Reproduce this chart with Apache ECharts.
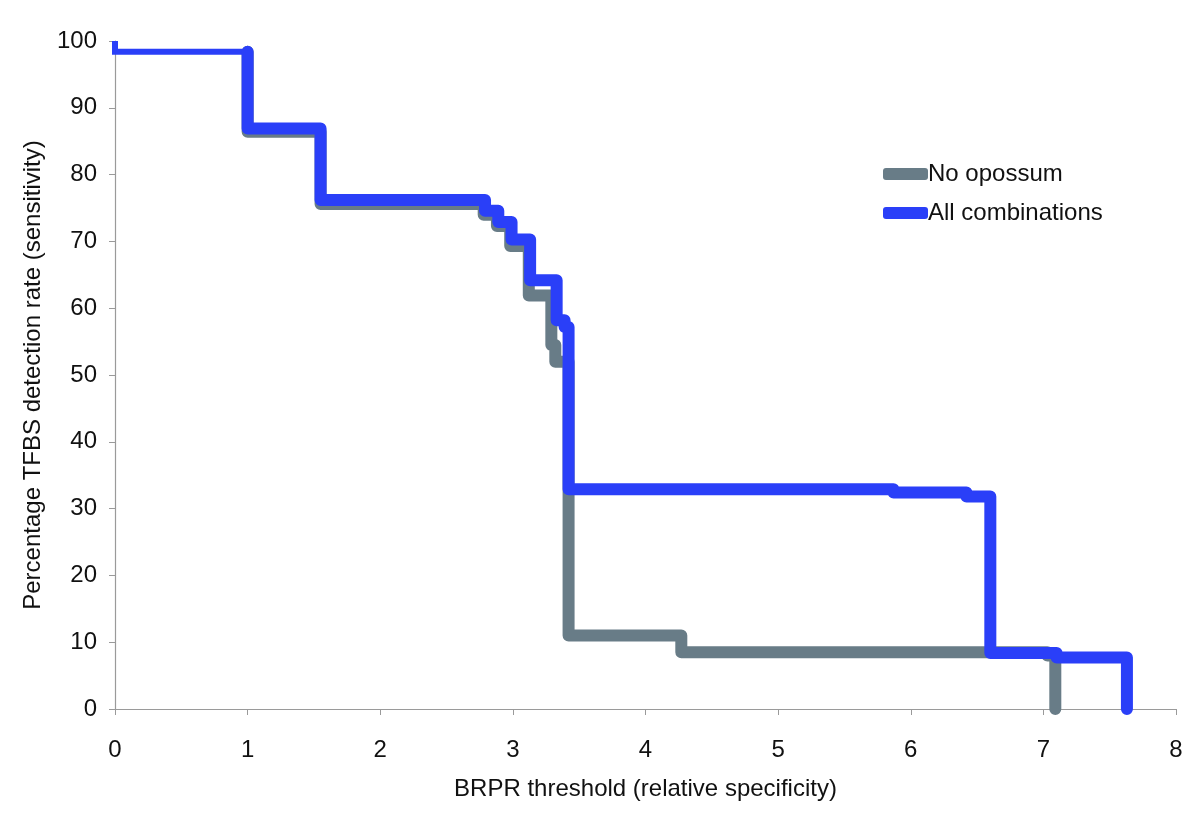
<!DOCTYPE html>
<html>
<head>
<meta charset="utf-8">
<script src="https://cdn.jsdelivr.net/npm/echarts@6/dist/echarts.min.js"></script>
<style>
html,body{margin:0;padding:0;background:#fff;}
#c{width:1200px;height:819px;}
</style>
</head>
<body>
<div id="c"></div>
<script>
// Step points: each (x, y) = threshold where the rate changes, value from there on
const startX = [0, 0, 1.0];
const startY = [100, 98.4, 98.4];

const noOpossumX = [1.0, 1.0, 1.55, 2.78, 2.88, 2.98, 3.12, 3.29, 3.32, 3.42, 4.27, 7.03, 7.09];
const noOpossumY = [98.4, 86.4, 75.6, 74.0, 72.3, 69.3, 61.9, 54.5, 52.0, 11.0, 8.5, 8.0, 0];

const allCombX = [1.0, 1.0, 1.55, 2.79, 2.89, 2.99, 3.13, 3.33, 3.39, 3.42, 5.87, 6.42, 6.6, 7.1, 7.63];
const allCombY = [98.4, 86.9, 76.2, 74.6, 72.9, 70.3, 64.2, 58.2, 57.2, 32.9, 32.4, 31.8, 8.4, 7.7, 0];

const xTicks = [0, 1, 2, 3, 4, 5, 6, 7, 8];
const yTicks = [0, 10, 20, 30, 40, 50, 60, 70, 80, 90, 100];

const GRAY = '#687c87';
const BLUE = '#2a3ff8';
const FONT = 'Liberation Sans, Arial, Helvetica, sans-serif';

function pairs(xs, ys) { return xs.map((x, i) => [x, ys[i]]); }

const chart = echarts.init(document.getElementById('c'), null, {renderer: 'canvas'});
chart.setOption({
  animation: false,
  backgroundColor: '#fff',
  grid: {left: 115, right: 24, top: 41, bottom: 110, containLabel: false},
  legend: {
    orient: 'vertical',
    left: 878, top: 157,
    itemWidth: 45, itemHeight: 12, itemGap: 15,
    icon: 'roundRect',
    data: ['No opossum', 'All combinations'],
    textStyle: {fontFamily: FONT, fontSize: 24, color: '#111', padding: [0, 0, 0, -5]}
  },
  xAxis: {
    type: 'value', min: xTicks[0], max: xTicks[xTicks.length - 1], interval: 1,
    name: 'BRPR threshold (relative specificity)',
    nameLocation: 'middle', nameGap: 68,
    nameTextStyle: {fontFamily: FONT, fontSize: 24, color: '#111'},
    axisLine: {lineStyle: {color: '#9a9a9a', width: 1.2}},
    axisTick: {show: true, inside: false, length: 6, lineStyle: {color: '#9a9a9a'}},
    axisLabel: {fontFamily: FONT, fontSize: 24, color: '#111', margin: 29},
    splitLine: {show: false}
  },
  yAxis: {
    type: 'value', min: yTicks[0], max: yTicks[yTicks.length - 1], interval: 10,
    name: 'Percentage TFBS detection rate (sensitivity)',
    nameLocation: 'middle', nameGap: 70, nameRotate: 90,
    nameTextStyle: {fontFamily: FONT, fontSize: 24, color: '#111'},
    axisLine: {show: true, lineStyle: {color: '#9a9a9a', width: 1.2}},
    axisTick: {show: true, inside: false, length: 6, lineStyle: {color: '#9a9a9a'}},
    axisLabel: {fontFamily: FONT, fontSize: 24, color: '#111', margin: 18},
    splitLine: {show: false}
  },
  series: [
    {
      name: 'No opossum', type: 'line', step: 'end', showSymbol: false, symbol: 'none',
      color: GRAY,
      lineStyle: {color: GRAY, width: 12, cap: 'round', join: 'round'},
      data: pairs(noOpossumX, noOpossumY)
    },
    {
      name: 'All combinations', type: 'line', step: 'end', showSymbol: false, symbol: 'none',
      color: BLUE,
      lineStyle: {color: BLUE, width: 6, cap: 'butt', join: 'miter'},
      data: pairs(startX, startY)
    },
    {
      name: 'All combinations', type: 'line', step: 'end', showSymbol: false, symbol: 'none',
      color: BLUE,
      lineStyle: {color: BLUE, width: 12, cap: 'round', join: 'round'},
      data: pairs(allCombX, allCombY)
    }
  ]
});
</script>
</body>
</html>
